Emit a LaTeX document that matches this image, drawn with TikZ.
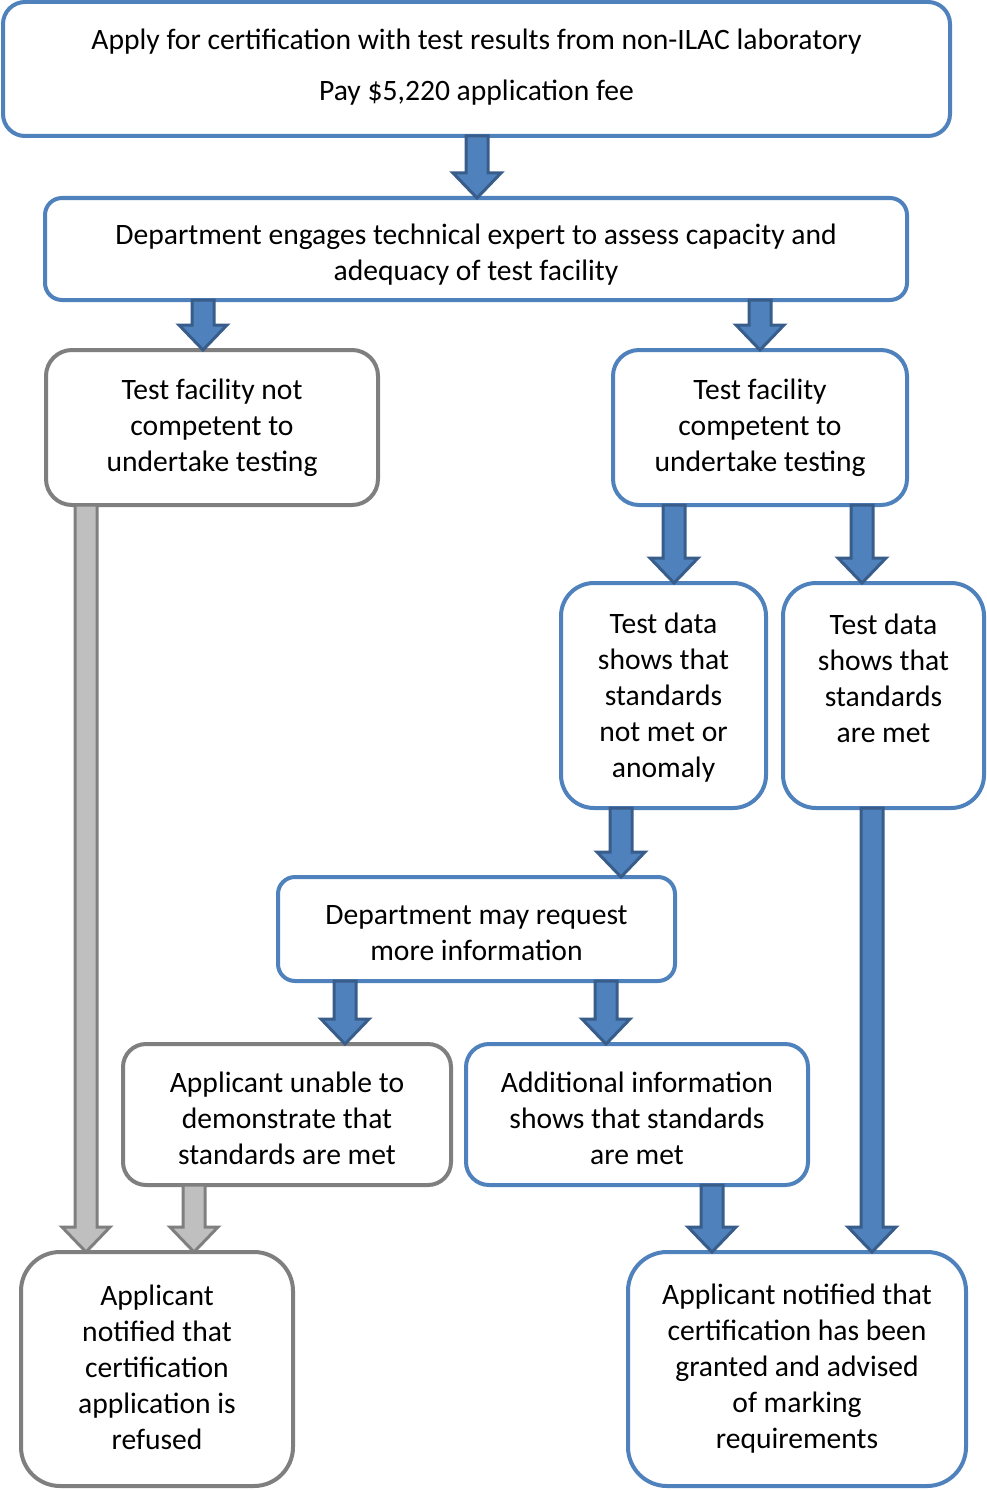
\documentclass[tikz,border=0pt]{standalone}
\usepackage{fontspec}
\setmainfont{Carlito}
\usetikzlibrary{calc}
\definecolor{boxblue}{RGB}{79,129,189}
\definecolor{arrblue}{RGB}{79,129,189}
\definecolor{arrblueline}{RGB}{56,93,138}
\definecolor{boxgrey}{RGB}{127,127,127}
\definecolor{arrgrey}{RGB}{191,191,191}
\newcommand\fstr[1]{\rule{0pt}{#1pt}}
\newcommand\lstr[1]{\rule[-#1pt]{0pt}{#1pt}}
\tikzset{
  bbox/.style={draw=boxblue, line width=4pt, fill=white, inner sep=0pt, outer sep=0pt, align=center,
    font=\fontsize{29.6}{36}\selectfont},
  gbox/.style={bbox, draw=boxgrey},
  barrow/.style={fill=arrblue, draw=arrblueline, line width=3pt, line join=miter},
  garrow/.style={fill=arrgrey, draw=boxgrey, line width=3pt, line join=miter},
}
\newcommand\blkarrow[4]{%
  \path[#1] let \p1=(#3.south), \p2=(#4.north) in
    (#2pt-11pt,\y1) -- (#2pt+11pt,\y1) -- (#2pt+11pt,\y2+25pt) -- (#2pt+24pt,\y2+25pt)
    -- (#2pt,\y2) -- (#2pt-24pt,\y2+25pt) -- (#2pt-11pt,\y2+25pt) -- cycle;}
\begin{document}
\begin{tikzpicture}[x=1pt,y=-1pt]
\useasboundingbox (0,0) rectangle (986,1490);
\node[bbox, rounded corners=22pt, minimum width=947pt, minimum height=134pt] (top) at (476.5,69)
  {\fstr{23}Apply for certification with test results from non-ILAC laboratory\\[15pt]Pay \$5,220 application fee\lstr{11}};
\node[bbox, rounded corners=17pt, minimum width=862pt, minimum height=102pt] (dept) at (476,249)
  {\fstr{34}Department engages technical expert to assess capacity and\\adequacy of test facility\lstr{8}};
\node[gbox, rounded corners=26pt, minimum width=332pt, minimum height=155pt] (notcomp) at (212,427.5)
  {\fstr{23}Test facility not\\competent to\\undertake testing\lstr{8}};
\node[bbox, rounded corners=26pt, minimum width=294pt, minimum height=155pt] (comp) at (760,427.5)
  {\fstr{23}Test facility\\competent to\\undertake testing\lstr{8}};
\node[bbox, rounded corners=33pt, minimum width=205pt, minimum height=225pt] (notmet) at (663.5,695.5)
  {\fstr{28}Test data\\shows that\\standards\\not met or\\anomaly\lstr{8}};
\node[bbox, rounded corners=33pt, minimum width=201pt, minimum height=225pt] (met) at (883.5,695.5)
  {\fstr{22}Test data\\shows that\\standards\\are met\lstr{37}};
\node[bbox, rounded corners=17pt, minimum width=397pt, minimum height=104pt] (more) at (476.5,929)
  {\fstr{34}Department may request\\more information\lstr{8}};
\node[gbox, rounded corners=23pt, minimum width=328pt, minimum height=141pt] (unable) at (287,1114.5)
  {\fstr{36}Applicant unable to\\demonstrate that\\standards are met\lstr{8}};
\node[bbox, rounded corners=23pt, minimum width=342pt, minimum height=141pt] (addl) at (637,1114.5)
  {\fstr{36}Additional information\\shows that standards\\are met\lstr{8}};
\node[gbox, rounded corners=39pt, minimum width=272pt, minimum height=234pt] (refused) at (157,1369)
  {\fstr{24}Applicant\\notified that\\certification\\application is\\refused\lstr{8}};
\node[bbox, rounded corners=39pt, minimum width=338pt, minimum height=234pt] (granted) at (797,1369)
  {\fstr{23}Applicant notified that\\certification has been\\granted and advised\\of marking\\requirements\lstr{8}};
\blkarrow{barrow}{477}{top}{dept}
\blkarrow{barrow}{203}{dept}{notcomp}
\blkarrow{barrow}{760}{dept}{comp}
\blkarrow{barrow}{674}{comp}{notmet}
\blkarrow{barrow}{862}{comp}{met}
\blkarrow{barrow}{621}{notmet}{more}
\blkarrow{barrow}{345}{more}{unable}
\blkarrow{barrow}{606}{more}{addl}
\blkarrow{garrow}{86}{notcomp}{refused}
\blkarrow{garrow}{194}{unable}{refused}
\blkarrow{barrow}{712}{addl}{granted}
\blkarrow{barrow}{872}{met}{granted}
\end{tikzpicture}
\end{document}
